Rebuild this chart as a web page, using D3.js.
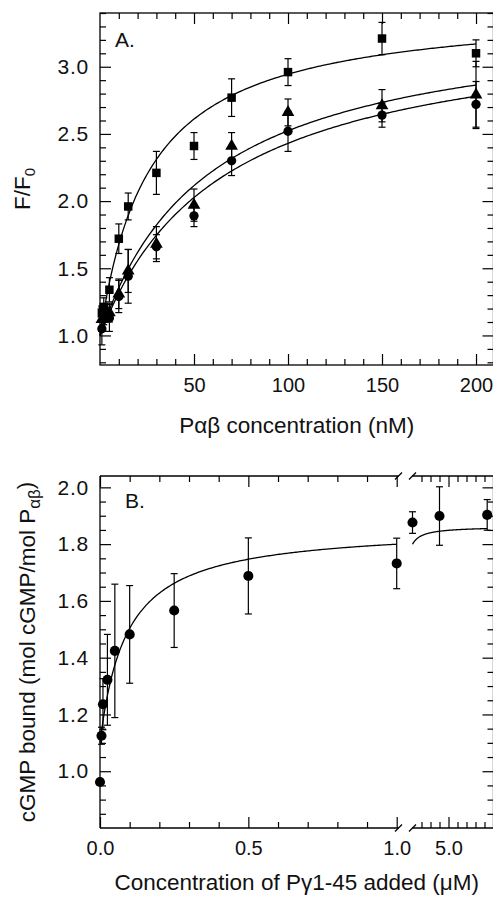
<!DOCTYPE html>
<html>
<head>
<meta charset="utf-8">
<script src="https://cdn.jsdelivr.net/npm/d3@7"></script>
<style>
  body { margin: 0; background: #fff; }
  svg { display: block; font-family: "Liberation Sans", Arial, sans-serif; }
</style>
</head>
<body>
<script>
// ---- Panel A: F/F0 vs Pab concentration ----
const concA = [1, 2, 5, 10, 15, 30, 50, 70, 100, 150, 200];
const squareY = [1.17, 1.21, 1.34, 1.72, 1.96, 2.21, 2.41, 2.77, 2.96, 3.21, 3.10];
const squareErr = [0.05, 0.07, 0.09, 0.11, 0.10, 0.16, 0.10, 0.14, 0.10, 0.12, 0.10];
const triangleY = [1.12, 1.16, 1.17, 1.31, 1.48, 1.68, 1.97, 2.41, 2.66, 2.71, 2.79];
const triangleErr = [0.09, 0.08, 0.07, 0.11, 0.16, 0.13, 0.12, 0.10, 0.10, 0.12, 0.25];
const circleY = [1.05, 1.12, 1.13, 1.29, 1.44, 1.66, 1.89, 2.30, 2.52, 2.64, 2.72];
const circleErr = [0.12, 0.09, 0.10, 0.12, 0.20, 0.09, 0.08, 0.11, 0.15, 0.09, 0.17];
// hyperbolic fits y = 1 + A*x/(K+x), parameters
const fitA = { square: [2.454, 26.2], triangle: [2.402, 57.7], circle: [2.357, 64.8] };
const xTicksA = [50, 100, 150, 200];
const yTicksA = [1.0, 1.5, 2.0, 2.5, 3.0];

// ---- Panel B: cGMP bound vs Pg1-45 added (broken x axis) ----
const concB = [0, 0.005, 0.01, 0.025, 0.05, 0.1, 0.25, 0.5, 1.0];
const boundB = [0.962, 1.125, 1.236, 1.322, 1.424, 1.482, 1.566, 1.688, 1.732];
const boundErr = [0, 0.03, 0.09, 0.16, 0.235, 0.172, 0.13, 0.134, 0.089];
const concB2 = [1.0, 4.0, 9.3];
const boundB2 = [1.876, 1.899, 1.903];
const boundErr2 = [0.038, 0.103, 0.054];
const fitB = [1.1, 0.762, 0.089]; // y0, A, K
const xTicksB = [0, 0.5, 1.0];
const xTicksB2 = [5];
const yTicksB = [1.0, 1.2, 1.4, 1.6, 1.8, 2.0];

const W = 493, H = 899;
const svg = d3.select("body").append("svg")
  .attr("width", W)
  .attr("height", H);

const tickFont = "21px", xTickFont = "20px", titleFont = "22.5px";
const major = 11, minor = 6;

// Scales
const xA = d3.scaleLinear().domain([0, 209.3]).range([100, 493.5]);
const yA = d3.scaleLinear().domain([0.78, 3.4]).range([365, 13]);
const xB = d3.scaleLinear().domain([0, 1]).range([100, 396.7]);
const xB2 = d3.scaleLinear().domain([1, 10]).range([412.5, 493.5]);
const yB = d3.scaleLinear().domain([0.8, 2.04]).range([828, 476]);

function styleAxis(g, labels, size, spacing) {
  g.select(".domain").remove();
  g.selectAll(".tick line").attr("stroke", "#000").attr("stroke-width", 1.2);
  g.selectAll("text").attr("fill", "#111").style("font-size", size || tickFont)
    .style("letter-spacing", spacing || "0px")
    .style("font-family", "'Liberation Sans', Arial, sans-serif");
  if (!labels) g.selectAll("text").remove();
}

// draw inward ticks on all sides of a panel
function ticksAll(x, y, xMajor, xMinor, yMajor, yMinor, top, bottom, left, right, xLabels, fmtX, fmtY) {
  const gx = svg.append("g").attr("transform", `translate(0,${bottom})`)
    .call(d3.axisBottom(x).tickValues(xMajor).tickSize(-major).tickPadding(13).tickFormat(fmtX));
  styleAxis(gx, xLabels, xTickFont);
  const gx2 = svg.append("g").attr("transform", `translate(0,${bottom})`)
    .call(d3.axisBottom(x).tickValues(xMinor).tickSize(-minor).tickFormat(""));
  styleAxis(gx2, false);
  const gt = svg.append("g").attr("transform", `translate(0,${top})`)
    .call(d3.axisTop(x).tickValues(xMajor).tickSize(-major).tickFormat(""));
  styleAxis(gt, false);
  const gt2 = svg.append("g").attr("transform", `translate(0,${top})`)
    .call(d3.axisTop(x).tickValues(xMinor).tickSize(-minor).tickFormat(""));
  styleAxis(gt2, false);
  if (y) {
    const gy = svg.append("g").attr("transform", `translate(${left},0)`)
      .call(d3.axisLeft(y).tickValues(yMajor).tickSize(-major).tickPadding(11).tickFormat(fmtY));
    styleAxis(gy, true, tickFont, "0.8px");
    const gy2 = svg.append("g").attr("transform", `translate(${left},0)`)
      .call(d3.axisLeft(y).tickValues(yMinor).tickSize(-minor).tickFormat(""));
    styleAxis(gy2, false);
    const gr = svg.append("g").attr("transform", `translate(${right},0)`)
      .call(d3.axisRight(y).tickValues(yMajor).tickSize(-major).tickFormat(""));
    styleAxis(gr, false);
    const gr2 = svg.append("g").attr("transform", `translate(${right},0)`)
      .call(d3.axisRight(y).tickValues(yMinor).tickSize(-minor).tickFormat(""));
    styleAxis(gr2, false);
  }
}

function errorBars(xs, ys, es, x, y) {
  const g = svg.append("g").attr("stroke", "#000").attr("stroke-width", 1.2);
  xs.forEach((v, i) => {
    if (!es[i]) return;
    const cx = x(v), y1 = y(ys[i] + es[i]), y2 = y(ys[i] - es[i]);
    g.append("line").attr("x1", cx).attr("x2", cx).attr("y1", y1).attr("y2", y2);
    g.append("line").attr("x1", cx - 3.5).attr("x2", cx + 3.5).attr("y1", y1).attr("y2", y1);
    g.append("line").attr("x1", cx - 3.5).attr("x2", cx + 3.5).attr("y1", y2).attr("y2", y2);
  });
}

function symbols(xs, ys, type, size, x, y) {
  svg.append("g").selectAll("path")
    .data(xs)
    .enter().append("path")
    .attr("transform", (d, i) => `translate(${x(d)},${y(ys[i])})`)
    .attr("d", d3.symbol().type(type).size(size))
    .attr("fill", "#000");
}

function curve(fn, x0, x1, x, y) {
  const pts = d3.range(0, 201).map(i => x0 + (x1 - x0) * i / 200);
  svg.append("path")
    .datum(pts)
    .attr("fill", "none")
    .attr("stroke", "#000")
    .attr("stroke-width", 1.3)
    .attr("d", d3.line().x(d => x(d)).y(d => y(fn(d))));
}

// ================= Panel A =================
svg.append("rect")
  .attr("x", xA(0)).attr("y", yA(3.4))
  .attr("width", xA(209.3) - xA(0)).attr("height", yA(0.78) - yA(3.4))
  .attr("fill", "none").attr("stroke", "#000").attr("stroke-width", 1.3);

ticksAll(xA, yA, xTicksA, d3.range(10, 210, 10).filter(d => d % 50),
  yTicksA, d3.range(0.8, 3.41, 0.1).filter(d => Math.round(d * 10) % 5),
  yA(3.4), yA(0.78), xA(0), xA(209.3), true, d3.format("d"), d3.format(".1f"));

errorBars(concA, squareY, squareErr, xA, yA);
errorBars(concA, triangleY, triangleErr, xA, yA);
errorBars(concA, circleY, circleErr, xA, yA);

Object.values(fitA).forEach(([A, K]) => {
  curve(c => 1 + A * c / (K + c), 0, 200, xA, yA);
});

symbols(concA, squareY, d3.symbolSquare, 72, xA, yA);
symbols(concA, triangleY, d3.symbolTriangle, 70, xA, yA);
symbols(concA, circleY, d3.symbolCircle, 68, xA, yA);

svg.append("text")
  .attr("x", 115).attr("y", 47)
  .style("font-size", tickFont).attr("fill", "#111")
  .text("A.");

svg.append("text")
  .attr("x", (xA(0) + xA(209.3)) / 2).attr("y", 433)
  .attr("text-anchor", "middle")
  .style("font-size", titleFont).attr("fill", "#111")
  .text("Pαβ concentration (nM)");

const yLabA = svg.append("text")
  .attr("transform", `translate(30,${(yA(3.4) + yA(0.78)) / 2}) rotate(-90)`)
  .attr("text-anchor", "middle")
  .style("font-size", titleFont).attr("fill", "#111");
yLabA.append("tspan").text("F/F");
yLabA.append("tspan").attr("dy", "0.3em").style("font-size", "15px").text("0");

// ================= Panel B =================
const topB = yB(2.04), botB = yB(0.8);
const frame = svg.append("g").attr("stroke", "#000").attr("stroke-width", 1.3).attr("fill", "none");
frame.append("line").attr("x1", 100).attr("x2", 100).attr("y1", topB).attr("y2", botB);
frame.append("line").attr("x1", 493.5).attr("x2", 493.5).attr("y1", topB).attr("y2", botB);
[topB, botB].forEach(yy => {
  frame.append("line").attr("x1", 100).attr("x2", 398.5).attr("y1", yy).attr("y2", yy);
  frame.append("line").attr("x1", 412).attr("x2", 493.5).attr("y1", yy).attr("y2", yy);
  frame.append("line").attr("x1", 395).attr("x2", 402).attr("y1", yy + 3.5).attr("y2", yy - 3.5);
  frame.append("line").attr("x1", 409).attr("x2", 416).attr("y1", yy + 3.5).attr("y2", yy - 3.5);
});

ticksAll(xB, yB, xTicksB, [0.1, 0.2, 0.3, 0.4, 0.6, 0.7, 0.8, 0.9],
  yTicksB, d3.range(0.85, 2.04, 0.05).filter(d => Math.round(d * 100) % 20),
  topB, botB, 100, 493.5, true, d3.format(".1f"), d3.format(".1f"));
ticksAll(xB2, null, xTicksB2, [2, 3, 4, 6, 7, 8, 9],
  null, null, topB, botB, 100, 493.5, true, d3.format(".1f"), null);

errorBars(concB, boundB, boundErr, xB, yB);
errorBars(concB2, boundB2, boundErr2, xB2, yB);

const fitFn = c => fitB[0] + fitB[1] * c / (fitB[2] + c);
curve(fitFn, 0, 1, xB, yB);
curve(fitFn, 1, 9.3, xB2, yB);

symbols(concB, boundB, d3.symbolCircle, 80, xB, yB);
symbols(concB2, boundB2, d3.symbolCircle, 80, xB2, yB);

svg.append("text")
  .attr("x", 125).attr("y", 508)
  .style("font-size", tickFont).attr("fill", "#111")
  .text("B.");

svg.append("text")
  .attr("x", (100 + 493.5) / 2).attr("y", 890)
  .attr("text-anchor", "middle")
  .style("font-size", titleFont).attr("fill", "#111")
  .text("Concentration of Pγ1-45 added (μM)");

const yLabB = svg.append("text")
  .attr("transform", `translate(35,${(topB + botB) / 2}) rotate(-90)`)
  .attr("text-anchor", "middle")
  .style("font-size", titleFont).attr("fill", "#111");
yLabB.append("tspan").text("cGMP bound (mol cGMP/mol P");
yLabB.append("tspan").attr("dy", "0.3em").style("font-size", "17px").text("αβ");
yLabB.append("tspan").attr("dy", "-0.3em").text(")");
</script>
</body>
</html>
